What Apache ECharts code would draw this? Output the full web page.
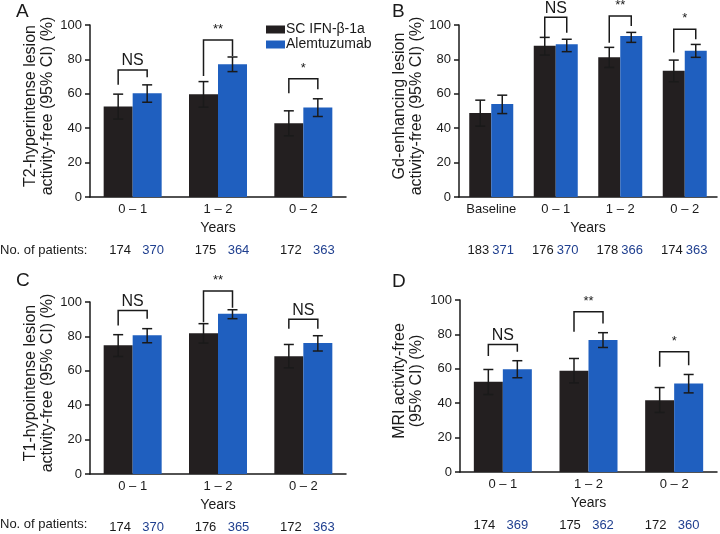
<!DOCTYPE html>
<html><head><meta charset="utf-8">
<script src="https://cdn.jsdelivr.net/npm/echarts@6/dist/echarts.min.js"></script>
<style>html,body{margin:0;padding:0;background:#fff}#c{width:720px;height:534px}</style>
</head><body><div id="c"></div>
<script>
// ---------- DATA ----------
const seriesNames = ['SC IFN-β-1a', 'Alemtuzumab'];
const yTicks = [0, 20, 40, 60, 80, 100];

// Panel A: T2-hyperintense lesion activity-free
const catsA = ['0 – 1', '1 – 2', '0 – 2'];
const ifnA = [52.6, 59.8, 42.9];
const ifnLoA = [45.3, 52.2, 35.6];
const ifnHiA = [59.8, 67.1, 50.1];
const alemA = [60.3, 77.2, 52.0];
const alemLoA = [55.1, 72.9, 46.8];
const alemHiA = [65.2, 81.4, 57.1];
const brTopA = [73.9, 91.3, 68.7];
const brLeftA = [65.2, 70.4, 60.3];
const brRightA = [69.6, 82.0, 62.7];
const sigA = ['NS', '**', '*'];
const nIfnA = [174, 175, 172];
const nAlemA = [370, 364, 363];

// Panel B: Gd-enhancing lesion activity-free
const catsB = ['Baseline', '0 – 1', '1 – 2', '0 – 2'];
const ifnB = [48.9, 88.0, 81.2, 73.4];
const ifnLoB = [41.2, 82.5, 75.3, 67.0];
const ifnHiB = [56.3, 92.8, 87.0, 79.6];
const alemB = [54.0, 88.8, 93.6, 85.0];
const alemLoB = [48.5, 84.5, 89.9, 81.2];
const alemHiB = [59.2, 91.7, 95.7, 88.7];
const brTopB = [null, 104.5, 105.2, 97.5];
const brLeftB = [null, 93.0, 89.7, 84.0];
const brRightB = [null, 95.5, 99.4, 91.7];
const sigB = [null, 'NS', '**', '*'];
const nIfnB = [183, 176, 178, 174];
const nAlemB = [371, 370, 366, 363];

// Panel C: T1-hypointense lesion activity-free
const catsC = ['0 – 1', '1 – 2', '0 – 2'];
const ifnC = [74.8, 81.9, 68.5];
const ifnLoC = [68.3, 76.1, 61.7];
const ifnHiC = [81.0, 87.4, 75.3];
const alemC = [80.6, 93.2, 76.1];
const alemLoC = [76.3, 90.3, 71.5];
const alemHiC = [84.5, 95.5, 80.4];
const brTopC = [95.1, 106.4, 90.0];
const brLeftC = [86.4, 88.2, 84.5];
const brRightC = [90.3, 96.7, 84.5];
const sigC = ['NS', '**', 'NS'];
const nIfnC = [174, 176, 172];
const nAlemC = [370, 365, 363];

// Panel D: MRI activity-free
const catsD = ['0 – 1', '1 – 2', '0 – 2'];
const ifnD = [52.4, 58.8, 41.7];
const ifnLoD = [45.0, 51.8, 34.6];
const ifnHiD = [59.6, 66.0, 49.1];
const alemD = [59.8, 76.7, 51.5];
const alemLoD = [54.8, 72.4, 46.0];
const alemHiD = [64.7, 81.0, 56.7];
const brTopD = [74.2, 93.2, 69.9];
const brLeftD = [67.4, 81.6, 61.2];
const brRightD = [69.9, 86.4, 62.1];
const sigD = ['NS', '**', '*'];
const nIfnD = [174, 175, 172];
const nAlemD = [369, 362, 360];

// ---------- STYLE ----------
const FONT = '"Liberation Sans", Arial, Helvetica, sans-serif';
const BLACK = '#231f20';
const BLUE = '#1f5fbf';
const NBLUE = '#1f3f8f';
const INK = '#1a1a1a';

const panels = [
  {key:'A', grid:{left:90, top:25, width:256, height:172}, cats:catsA, ifn:ifnA, ifnLo:ifnLoA, ifnHi:ifnHiA, alem:alemA, alemLo:alemLoA, alemHi:alemHiA,
   brTop:brTopA, brL:brLeftA, brR:brRightA, sig:sigA, nI:nIfnA, nA:nAlemA, bw:29, yName:'T2-hyperintense lesion\nactivity-free (95% CI) (%)', yGap:26,
   nOff:{i:2, a:6, mode:'center'}},
  {key:'B', grid:{left:459, top:25, width:258, height:172}, cats:catsB, ifn:ifnB, ifnLo:ifnLoB, ifnHi:ifnHiB, alem:alemB, alemLo:alemLoB, alemHi:alemHiB,
   brTop:brTopB, brL:brLeftB, brR:brRightB, sig:sigB, nI:nIfnB, nA:nAlemB, bw:22, yName:'Gd-enhancing lesion\nactivity-free (95% CI) (%)', yGap:24,
   nOff:{i:-2, a:1, mode:'edge'}},
  {key:'C', grid:{left:90, top:302, width:256, height:172}, cats:catsC, ifn:ifnC, ifnLo:ifnLoC, ifnHi:ifnHiC, alem:alemC, alemLo:alemLoC, alemHi:alemHiC,
   brTop:brTopC, brL:brLeftC, brR:brRightC, sig:sigC, nI:nIfnC, nA:nAlemC, bw:29, yName:'T1-hypointense lesion\nactivity-free (95% CI) (%)', yGap:26,
   nOff:{i:2, a:6, mode:'center'}},
  {key:'D', grid:{left:460, top:300, width:257, height:172}, cats:catsD, ifn:ifnD, ifnLo:ifnLoD, ifnHi:ifnHiD, alem:alemD, alemLo:alemLoD, alemHi:alemHiD,
   brTop:brTopD, brL:brLeftD, brR:brRightD, sig:sigD, nI:nIfnD, nA:nAlemD, bw:29, yName:'MRI activity-free\n(95% CI) (%)', yGap:35,
   nOff:{i:-4, a:0, mode:'center'}}
];

const grid = [], xAxis = [], yAxis = [], series = [];
panels.forEach((p, gi) => {
  grid.push(p.grid);
  xAxis.push({
    type:'category', gridIndex:gi, data:p.cats,
    axisLine:{lineStyle:{color:INK, width:1.5}}, axisTick:{show:false},
    axisLabel:{fontFamily:FONT, fontSize:13, color:INK, margin:6, interval:0},
    name:'Years', nameLocation:'middle', nameGap:24,
    nameTextStyle:{fontFamily:FONT, fontSize:14, color:INK}
  });
  yAxis.push({
    type:'value', gridIndex:gi, min:yTicks[0], max:yTicks[yTicks.length-1], interval:yTicks[1]-yTicks[0],
    axisLine:{show:true, lineStyle:{color:INK, width:1.5}},
    axisTick:{show:true, length:5, lineStyle:{color:INK, width:1.5}},
    splitLine:{show:false},
    axisLabel:{fontFamily:FONT, fontSize:13, color:INK, margin:8},
    name:p.yName, nameLocation:'middle', nameGap:p.yGap, nameRotate:90,
    nameTextStyle:{fontFamily:FONT, fontSize:16, color:INK, lineHeight:17, padding:[0,0,0,10]}
  });
  const bw = p.bw;
  series.push({name:seriesNames[0], type:'bar', xAxisIndex:gi, yAxisIndex:gi, data:p.ifn, barWidth:bw, barGap:'0%',
    itemStyle:{color:BLACK}, silent:true});
  series.push({name:seriesNames[1], type:'bar', xAxisIndex:gi, yAxisIndex:gi, data:p.alem, barWidth:bw, barGap:'0%',
    itemStyle:{color:BLUE}, silent:true});
  // error bars
  [[p.ifnLo, p.ifnHi, -1], [p.alemLo, p.alemHi, 1]].forEach(([lo, hi, side]) => {
    series.push({
      type:'custom', xAxisIndex:gi, yAxisIndex:gi, clip:false, silent:true, z:5,
      data: lo.map((v, i) => [i, v, hi[i]]),
      renderItem:(params, api) => {
        const c = api.value(0);
        const pl = api.coord([c, api.value(1)]);
        const ph = api.coord([c, api.value(2)]);
        const x = pl[0] + side * bw / 2;
        const cap = 5;
        const st = {stroke:INK, lineWidth:1.5, fill:null};
        return {type:'group', children:[
          {type:'line', shape:{x1:x, y1:pl[1], x2:x, y2:ph[1]}, style:st},
          {type:'line', shape:{x1:x-cap, y1:pl[1], x2:x+cap, y2:pl[1]}, style:st},
          {type:'line', shape:{x1:x-cap, y1:ph[1], x2:x+cap, y2:ph[1]}, style:st}
        ]};
      }
    });
  });
  // significance brackets
  const brData = [];
  p.brTop.forEach((t, i) => { if (t != null) brData.push([i, t, p.brL[i], p.brR[i], p.sig[i]]); });
  series.push({
    type:'custom', xAxisIndex:gi, yAxisIndex:gi, clip:false, silent:true, z:6,
    data: brData,
    renderItem:(params, api) => {
      const c = api.value(0);
      const pt = api.coord([c, api.value(1)]);
      const pl = api.coord([c, api.value(2)]);
      const pr = api.coord([c, api.value(3)]);
      const xl = pt[0] - bw / 2, xr = pt[0] + bw / 2;
      const label = brData[params.dataIndex][4];
      const star = label.indexOf('*') >= 0;
      return {type:'group', children:[
        {type:'polyline', shape:{points:[[xl, pl[1]], [xl, pt[1]], [xr, pt[1]], [xr, pr[1]]]},
         style:{stroke:INK, lineWidth:1.5, fill:null}},
        {type:'text', style:{text:label, x:pt[0], y: star ? pt[1] - 4 : pt[1] - 1,
          align:'center', verticalAlign:'bottom',
          font: (star ? '13px ' : '16px ') + FONT, fill:INK}}
      ]};
    }
  });
  // patient numbers
  series.push({
    type:'custom', xAxisIndex:gi, yAxisIndex:gi, clip:false, silent:true,
    data: p.nI.map((v, i) => [i, v, p.nA[i]]),
    renderItem:(params, api) => {
      const c = api.value(0);
      const p0 = api.coord([c, 0]);
      const y = p0[1] + 53;
      let k1, k2;
      if (p.nOff.mode === 'edge') {
        k1 = {x:p0[0] + p.nOff.i, align:'right'};
        k2 = {x:p0[0] + p.nOff.a, align:'left'};
      } else {
        k1 = {x:p0[0] - bw / 2 + p.nOff.i, align:'center'};
        k2 = {x:p0[0] + bw / 2 + p.nOff.a, align:'center'};
      }
      return {type:'group', children:[
        {type:'text', style:{text:String(api.value(1)), x:k1.x, y:y, align:k1.align, verticalAlign:'middle', font:'13px ' + FONT, fill:INK}},
        {type:'text', style:{text:String(api.value(2)), x:k2.x, y:y, align:k2.align, verticalAlign:'middle', font:'13px ' + FONT, fill:NBLUE}}
      ]};
    }
  });
});

const chart = echarts.init(document.getElementById('c'), null, {renderer:'canvas'});
chart.setOption({
  animation:false,
  backgroundColor:'#fff',
  grid, xAxis, yAxis, series,
  legend:{
    data:seriesNames, orient:'vertical', left:261, top:17, itemWidth:19, itemHeight:8, itemGap:0,
    icon:'rect', textStyle:{fontFamily:FONT, fontSize:14, color:INK, lineHeight:15, padding:[0,0,0,-4]},
    selectedMode:false
  },
  graphic:[
    {type:'text', left:16, top:2, style:{text:'A', font:'19px ' + FONT, fill:INK}},
    {type:'text', left:392, top:2, style:{text:'B', font:'19px ' + FONT, fill:INK}},
    {type:'text', left:16, top:271, style:{text:'C', font:'19px ' + FONT, fill:INK}},
    {type:'text', left:392, top:272, style:{text:'D', font:'19px ' + FONT, fill:INK}},
    {type:'text', left:0, top:244, style:{text:'No. of patients:', font:'13px ' + FONT, fill:INK}},
    {type:'text', left:0, top:518, style:{text:'No. of patients:', font:'13px ' + FONT, fill:INK}}
  ]
});
</script></body></html>
